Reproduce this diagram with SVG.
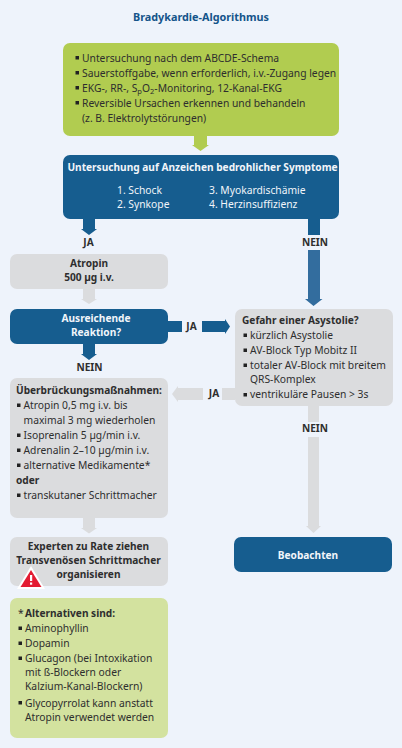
<svg xmlns="http://www.w3.org/2000/svg" width="402" height="748" viewBox="0 0 402 748">
<style>
text{font-family:"Noto Sans","Open Sans","Liberation Sans",sans-serif;font-size:10.3px;fill:#2e2e2e}
.b{font-weight:700;font-size:10.15px}
.c{text-anchor:middle}
.w{fill:#f1f5fa}
.t{fill:#14548a;font-size:10.8px;font-weight:700}
.g{fill:#b1cc50}.n{fill:#165d8f}.r{fill:#dbdcde}.l{fill:#d3e29f}
.m{fill:#336d9e}
.k{fill:#222}
</style>
<rect width="402" height="748" fill="#eef3fb"/>
<text id="title" class="t c" x="201" y="20.500">Bradykardie-Algorithmus</text>
<g id="connectors">
<polygon class="g" points="194,136 207,136 207,145 209,145 200.500,151 192,145 194,145"/>
<polygon class="n" points="83,219 95,219 95,229 97,229 89,235 81,229 83,229"/>
<rect class="n" x="308" y="219" width="12" height="16"/>
<polygon class="m" points="308,250 320,250 320,299 322.500,299 313.500,306 305,299 308,299"/>
<polygon class="r" points="83,289 95,289 95,299 97,299 89,304 81,299 83,299"/>
<rect class="n" x="168" y="321" width="14" height="11"/>
<polygon class="n" points="202,321 225,321 225,319 230,326.500 225,334 225,332 202,332"/>
<polygon class="n" points="83,344 95,344 95,354 97,354 89,360 81,354 83,354"/>
<rect class="r" x="222" y="388" width="13" height="12"/>
<polygon class="r" points="203,388 178,388 178,386 172,394 178,402 178,400 203,400"/>
<rect class="r" x="308" y="406" width="11" height="16"/>
<polygon class="r" points="308,437 319,437 319,526 321,526 313.500,533 306,526 308,526"/>
<polygon class="r" points="83,518 95,518 95,528 97,528 89,533.500 81,528 83,528"/>
</g>
<g id="start">
<rect class="g" x="63" y="43" width="276" height="93" rx="7"/>
<rect class="k" x="75.500" y="56" width="3.500" height="3.500"/>
<rect class="k" x="75.500" y="71" width="3.500" height="3.500"/>
<rect class="k" x="75.500" y="86" width="3.500" height="3.500"/>
<rect class="k" x="75.500" y="101" width="3.500" height="3.500"/>
<text x="82" y="62">Untersuchung nach dem ABCDE-Schema</text>
<text x="82" y="77">Sauerstoffgabe, wenn erforderlich, i.v.-Zugang legen</text>
<text x="82" y="92">EKG-, RR-, S<tspan font-size="7.500" dy="2">p</tspan><tspan dy="-2">O</tspan><tspan font-size="7.500" dy="2">2</tspan><tspan dy="-2">-Monitoring, 12-Kanal-EKG</tspan></text>
<text x="82" y="107">Reversible Ursachen erkennen und behandeln</text>
<text x="82" y="122">(z. B. Elektrolytstörungen)</text>
</g>
<g id="symptome">
<rect class="n" x="63" y="155" width="276" height="64" rx="7"/>
<text class="w b c" x="202.500" y="171">Untersuchung auf Anzeichen bedrohlicher Symptome</text>
<text class="w" x="117" y="194">1. Schock</text>
<text class="w" x="117" y="208">2. Synkope</text>
<text class="w" x="209" y="194">3. Myokardischämie</text>
<text class="w" x="209" y="208">4. Herzinsuffizienz</text>
</g>
<text class="b c" x="88.500" y="246">JA</text>
<text class="b c" x="315" y="246">NEIN</text>
<g id="atropin">
<rect class="r" x="10" y="254" width="158" height="35" rx="7"/>
<text class="b c" x="89" y="267">Atropin</text>
<text class="b c" x="89" y="281">500 µg i.v.</text>
</g>
<g id="reaktion">
<rect class="n" x="10" y="309" width="158" height="35" rx="7"/>
<text class="w b c" x="96" y="322">Ausreichende</text>
<text class="w b c" x="96" y="336">Reaktion?</text>
</g>
<text class="b c" x="191.500" y="330">JA</text>
<text class="b c" x="89.500" y="371">NEIN</text>
<g id="asystolie">
<rect class="r" x="235" y="309" width="158" height="97" rx="7"/>
<text class="b" x="242" y="324">Gefahr einer Asystolie?</text>
<rect class="k" x="243.500" y="333.500" width="3.500" height="3.500"/>
<rect class="k" x="243.500" y="348.500" width="3.500" height="3.500"/>
<rect class="k" x="243.500" y="363.500" width="3.500" height="3.500"/>
<rect class="k" x="243.500" y="393" width="3.500" height="3.500"/>
<text x="250" y="339">kürzlich Asystolie</text>
<text x="250" y="354">AV-Block Typ Mobitz II</text>
<text x="250" y="369">totaler AV-Block mit breitem</text>
<text x="250" y="383">QRS-Komplex</text>
<text x="250" y="398">ventrikuläre Pausen &gt; 3s</text>
</g>
<text class="b c" x="214" y="397">JA</text>
<text class="b c" x="315" y="432">NEIN</text>
<g id="ueberbrueckung">
<rect class="r" x="10" y="378" width="158" height="140" rx="7"/>
<text class="b" x="16" y="394">Überbrückungsmaßnahmen:</text>
<rect class="k" x="17" y="403.500" width="3.500" height="3.500"/>
<rect class="k" x="17" y="433.500" width="3.500" height="3.500"/>
<rect class="k" x="17" y="448.500" width="3.500" height="3.500"/>
<rect class="k" x="17" y="463.500" width="3.500" height="3.500"/>
<rect class="k" x="17" y="493.500" width="3.500" height="3.500"/>
<text x="23.500" y="409">Atropin 0,5 mg i.v. bis</text>
<text x="23.500" y="424">maximal 3 mg wiederholen</text>
<text x="23.500" y="439">Isoprenalin 5 µg/min i.v.</text>
<text x="23.500" y="454">Adrenalin 2–10 µg/min i.v.</text>
<text x="23.500" y="469">alternative Medikamente*</text>
<text class="b" x="16" y="484">oder</text>
<text x="23.500" y="499">transkutaner Schrittmacher</text>
</g>
<g id="beobachten">
<rect class="n" x="234" y="537" width="158" height="35" rx="7"/>
<text class="w b c" x="308" y="559">Beobachten</text>
</g>
<g id="experten">
<rect class="r" x="10" y="537" width="158" height="49" rx="7"/>
<text class="b c" x="88.500" y="550">Experten zu Rate ziehen</text>
<text class="b c" x="88.500" y="564">Transvenösen Schrittmacher</text>
<text class="b c" x="88.500" y="578">organisieren</text>
<polygon points="31,566 45,589 17,589" fill="#fff"/>
<polygon points="31,570 41.500,587 20.500,587" fill="#e31b32"/>
<rect x="30" y="575" width="2.200" height="6" fill="#fff"/>
<rect x="30" y="582.500" width="2.200" height="2.200" fill="#fff"/>
</g>
<g id="alternativen">
<rect class="l" x="10" y="598" width="158" height="140" rx="7"/>
<text x="18" y="617">*</text>
<text class="b" x="25" y="617">Alternativen sind:</text>
<rect class="k" x="18.500" y="626.500" width="3.500" height="3.500"/>
<rect class="k" x="18.500" y="641.500" width="3.500" height="3.500"/>
<rect class="k" x="18.500" y="656.500" width="3.500" height="3.500"/>
<rect class="k" x="18.500" y="701" width="3.500" height="3.500"/>
<text x="25" y="632">Aminophyllin</text>
<text x="25" y="647">Dopamin</text>
<text x="25" y="662">Glucagon (bei Intoxikation</text>
<text x="25" y="676">mit ß-Blockern oder</text>
<text x="25" y="690">Kalzium-Kanal-Blockern)</text>
<text x="25" y="707">Glycopyrrolat kann anstatt</text>
<text x="25" y="721">Atropin verwendet werden</text>
</g>
</svg>
